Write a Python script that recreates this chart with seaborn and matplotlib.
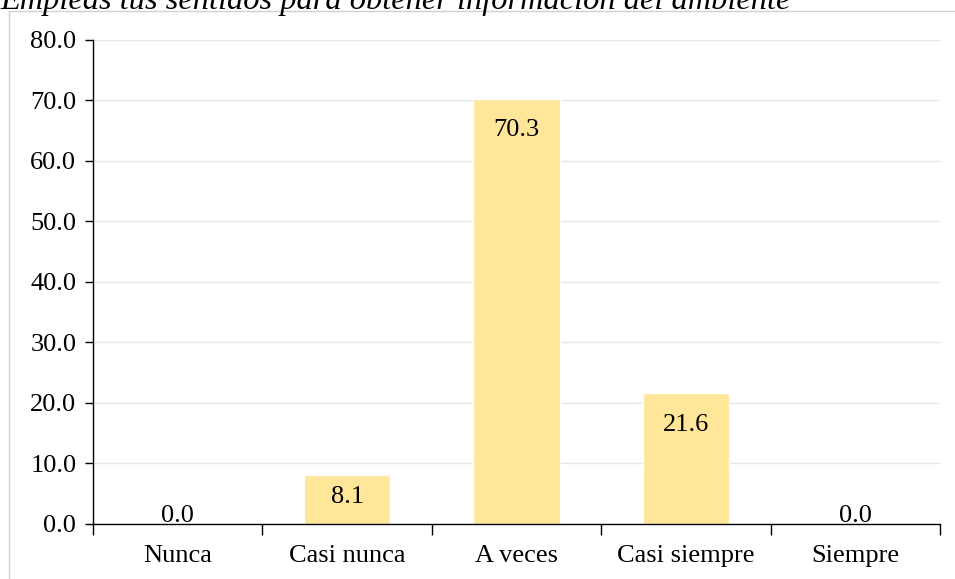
import numpy as np
import pandas as pd
import matplotlib
matplotlib.use("Agg")
import matplotlib.pyplot as plt
import seaborn as sns
from matplotlib.patches import Rectangle
from matplotlib.ticker import FormatStrFormatter, FixedLocator

# ── Data ──────────────────────────────────────────────
categories = ["Nunca", "Casi nunca", "A veces", "Casi siempre", "Siempre"]
values     = [0.0, 8.1, 70.3, 21.6, 0.0]
title      = "Empleas tus sentidos para obtener información del ambiente"

BAR_COLOR = "#FFE699"
FONT      = ["Liberation Serif", "DejaVu Serif"]

sns.set_theme(style="white")
plt.rcParams["font.family"] = FONT
plt.rcParams["text.color"] = "black"
plt.rcParams["xtick.color"] = "black"
plt.rcParams["ytick.color"] = "black"

df = pd.DataFrame({"cat": categories, "val": values})

fig = plt.figure(figsize=(9.55, 5.79), dpi=100)
ax = fig.add_axes([0.0974, 0.095, 0.887, 0.836])

sns.barplot(data=df, x="cat", y="val", color=BAR_COLOR, width=0.51,
            saturation=1, ax=ax, zorder=2)

# outer chart border (runs off the top-right like the source)
fig.patches.append(Rectangle((0.0095, -0.01), 1.0, 0.991, transform=fig.transFigure,
                             fill=False, edgecolor="#d0d0d0", lw=1.0, zorder=0))

# title, partly cut off at the top
fig.text(0.0, 0.985, title, fontsize=23.3, style="italic", ha="left", va="baseline",
         color="black")

ax.set_ylim(0, 80)
ax.set_xlim(-0.5, len(categories) - 0.5)
ax.yaxis.set_major_formatter(FormatStrFormatter("%.1f"))
ax.set_yticks(np.arange(0, 81, 10))
ax.grid(axis="y", color="#e6e6e6", lw=1, zorder=0)
ax.set_axisbelow(True)
ax.set_xlabel("")
ax.set_ylabel("")

for side in ["top", "right"]:
    ax.spines[side].set_visible(False)
for side in ["left", "bottom"]:
    ax.spines[side].set_color("black")
    ax.spines[side].set_linewidth(1.0)

# category boundary ticks on x, labels in the middle
ax.xaxis.set_major_locator(FixedLocator(np.arange(-0.5, len(categories), 1.0)))
ax.xaxis.set_minor_locator(FixedLocator(np.arange(len(categories))))
ax.set_xticklabels([""] * (len(categories) + 1))
ax.set_xticklabels(categories, minor=True)
ax.tick_params(axis="x", which="major", direction="out", length=8, width=1,
               color="black", bottom=True)
ax.tick_params(axis="x", which="minor", length=0, pad=15, labelsize=19,
               labelcolor="black")
ax.tick_params(axis="y", direction="out", length=6, width=1, color="black",
               left=True, labelsize=19, pad=6, labelcolor="black")

# value labels: inside end for bars, above for zeros
for p, v in zip(ax.patches, values):
    xc = p.get_x() + p.get_width() / 2
    if v == 0:
        ax.annotate(f"{v:.1f}", (xc, v), xytext=(0, -2), textcoords="offset points",
                    ha="center", va="bottom", fontsize=19, color="black")
    else:
        off = -8 if v < 10 else -15
        ax.annotate(f"{v:.1f}", (xc, v), xytext=(0, off), textcoords="offset points",
                    ha="center", va="top", fontsize=19, color="black")

fig.savefig("out.png", dpi=100, facecolor="white")
